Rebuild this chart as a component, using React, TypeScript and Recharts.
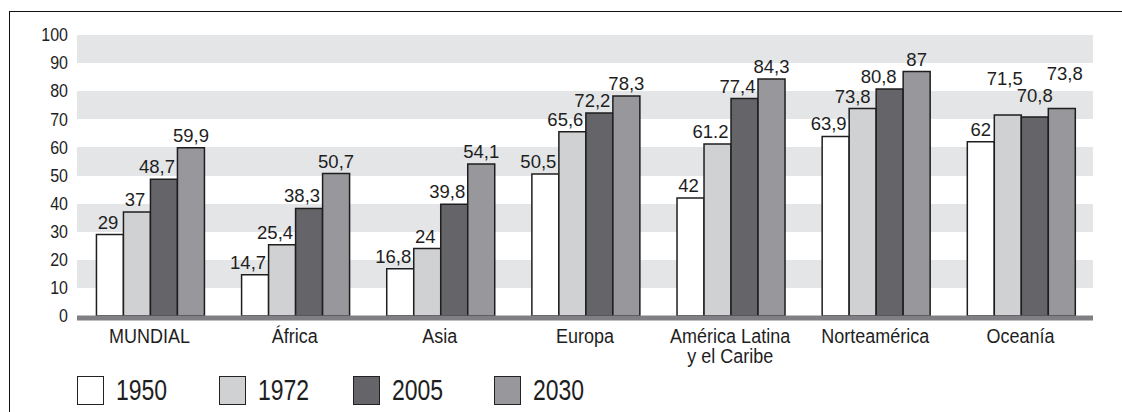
import { BarChart, Bar, XAxis, YAxis, CartesianGrid, LabelList } from "recharts";

const categories = [
  "MUNDIAL",
  "África",
  "Asia",
  "Europa",
  "América Latina\ny el Caribe",
  "Norteamérica",
  "Oceanía",
];

const years = ["1950", "1972", "2005", "2030"];

const values1950 = [29, 14.7, 16.8, 50.5, 42, 63.9, 62];
const values1972 = [37, 25.4, 24, 65.6, 61.2, 73.8, 71.5];
const values2005 = [48.7, 38.3, 39.8, 72.2, 77.4, 80.8, 70.8];
const values2030 = [59.9, 50.7, 54.1, 78.3, 84.3, 87, 73.8];

// value labels as printed (note the "61.2" with a dot)
const labels1950 = ["29", "14,7", "16,8", "50,5", "42", "63,9", "62"];
const labels1972 = ["37", "25,4", "24", "65,6", "61.2", "73,8", "71,5"];
const labels2005 = ["48,7", "38,3", "39,8", "72,2", "77,4", "80,8", "70,8"];
const labels2030 = ["59,9", "50,7", "54,1", "78,3", "84,3", "87", "73,8"];

const yTicks = [0, 10, 20, 30, 40, 50, 60, 70, 80, 90, 100];

const data = categories.map((name, i) => ({
  name,
  y1950: values1950[i],
  y1972: values1972[i],
  y2005: values2005[i],
  y2030: values2030[i],
}));

const FONT = "'Liberation Sans', Arial, sans-serif";
const INK = "#1e1e1e";
const colors = ["#ffffff", "#d0d1d3", "#656469", "#98979b"];
const seriesLabels = [labels1950, labels1972, labels2005, labels2030];

// labels sit a little left so they clear the next (taller) bar;
// Oceanía ones are stacked to avoid colliding
const labelShift: Record<string, { dx: number; dy: number }> = {
  "1972-5": { dx: -10, dy: 0 },
  "2005-5": { dx: -11, dy: 0 },
  "1950-6": { dx: 0, dy: 0 },
  "1972-6": { dx: -3, dy: -24 },
  "2005-6": { dx: 0, dy: -9 },
  "2030-6": { dx: 3, dy: -23 },
};

function makeLabel(s: number) {
  return (props: any) => {
    const { x, y, width, index } = props;
    const text = seriesLabels[s][index];
    const base = { dx: s < 3 ? (text.length > 2 ? -7 : -2) : 0, dy: 0 };
    const shift = labelShift[`${years[s]}-${index}`] || base;
    return (
      <text
        x={x + width / 2 + shift.dx}
        y={y - 6 + shift.dy}
        textAnchor="middle"
        fontSize={18.5}
        fontFamily={FONT}
        fill={INK}
      >
        {text}
      </text>
    );
  };
}

// the source type is a bit tall and narrow, so stretch it vertically
const ValueTick = (props: any) => {
  const { x, y, payload } = props;
  return (
    <text
      transform={`translate(${x},${y}) scale(1,1.1)`}
      textAnchor="end"
      dy="0.355em"
      fontSize={16}
      fontFamily={FONT}
      fill={INK}
    >
      {payload.value}
    </text>
  );
};

const CategoryTick = (props: any) => {
  const { x, y, payload } = props;
  const lines = String(payload.value).split("\n");
  return (
    <text
      transform={`translate(${x},${y + 27}) scale(1,1.12)`}
      textAnchor="middle"
      fontSize={18}
      fontFamily={FONT}
      fill={INK}
    >
      {lines.map((line, i) => (
        <tspan key={i} x={0} dy={i === 0 ? 0 : 18}>
          {line}
        </tspan>
      ))}
    </text>
  );
};

const legendBoxX = [77, 219, 353, 494];

export default function App() {
  return (
    <div style={{ position: "relative", width: 1122, height: 412, background: "#fff", overflow: "hidden" }}>
      <style>{`body { margin: 0; }`}</style>

      {/* frame */}
      <div
        style={{
          position: "absolute",
          left: 9,
          top: 11,
          width: 1122,
          height: 420,
          borderTop: "1.5px solid #111",
          borderLeft: "1.5px solid #111",
        }}
      />

      <BarChart
        width={1122}
        height={412}
        data={data}
        margin={{ top: 35, right: 29, left: 0, bottom: 0 }}
        barGap={0}
        barCategoryGap="13.4%"
        style={{ position: "absolute", left: 0, top: 0 }}
      >
        <CartesianGrid
          vertical={false}
          stroke="transparent"
          horizontalFill={["#e4e5e7", "#ffffff"]}
          fillOpacity={1}
        />
        <YAxis
          width={77}
          domain={[0, 100]}
          ticks={yTicks}
          interval={0}
          axisLine={false}
          tickLine={false}
          tickSize={0}
          tickMargin={9}
          tick={<ValueTick />}
        />
        <XAxis
          dataKey="name"
          height={96}
          interval={0}
          tickLine={false}
          tickSize={0}
          tickMargin={0}
          axisLine={{ stroke: "#808084", strokeWidth: 5, transform: "translate(0,2)" }}
          tick={<CategoryTick />}
        />
        {years.map((yr, s) => (
          <Bar
            key={yr}
            dataKey={`y${yr}`}
            fill={colors[s]}
            stroke={INK}
            strokeWidth={1.5}
            isAnimationActive={false}
          >
            <LabelList dataKey={`y${yr}`} content={makeLabel(s)} />
          </Bar>
        ))}
      </BarChart>

      {/* legend */}
      {years.map((yr, s) => (
        <div key={yr}>
          <div
            style={{
              position: "absolute",
              left: legendBoxX[s],
              top: 376,
              width: 25,
              height: 27,
              background: colors[s],
              border: "1.5px solid #222",
            }}
          />
          <div
            style={{
              position: "absolute",
              left: legendBoxX[s] + 39,
              top: 373,
              fontFamily: FONT,
              fontSize: 23,
              lineHeight: "34px",
              color: INK,
              transform: "scaleY(1.3)",
              transformOrigin: "left center",
            }}
          >
            {yr}
          </div>
        </div>
      ))}
    </div>
  );
}
